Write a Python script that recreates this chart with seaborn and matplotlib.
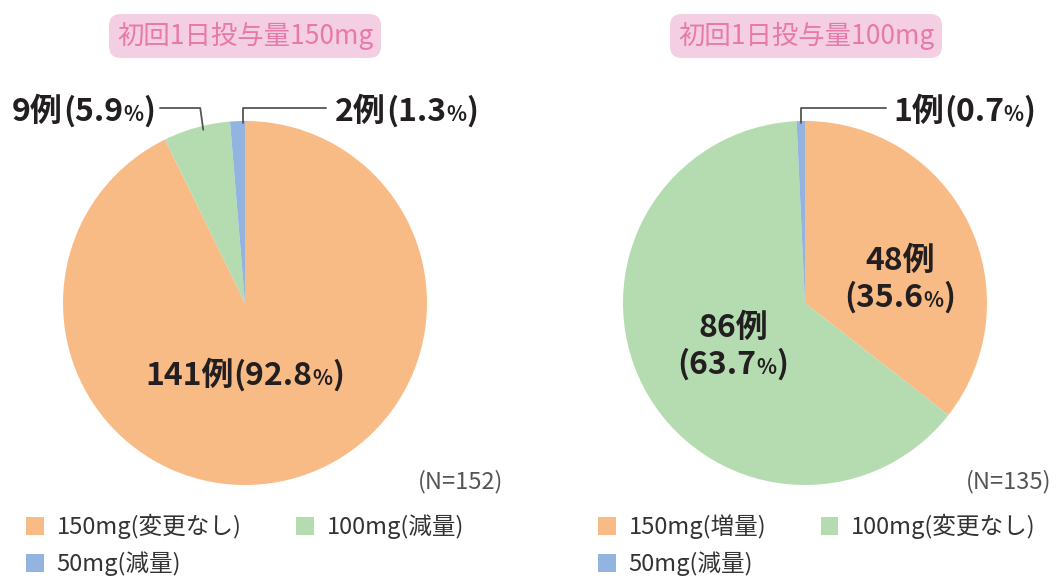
import numpy as np
import pandas as pd
import matplotlib
matplotlib.use("Agg")
import matplotlib.pyplot as plt
import seaborn as sns
from matplotlib.patches import Patch

# data
titles = ["初回1日投与量150mg", "初回1日投与量100mg"]
left_counts = [141, 9, 2]
left_pcts = [92.8, 5.9, 1.3]
left_legend = ["150mg(変更なし)", "100mg(減量)", "50mg(減量)"]
right_counts = [48, 86, 1]
right_pcts = [35.6, 63.7, 0.7]
right_legend = ["150mg(増量)", "100mg(変更なし)", "50mg(減量)"]
n_labels = ["(N=152)", "(N=135)"]

colors = ["#f9bb86", "#b4dcb0", "#93b4df"]

sns.set_theme(style="white")
plt.rcParams["font.family"] = ["Noto Sans CJK JP", "DejaVu Sans"]

W, H = 1057, 576
fig = plt.figure(figsize=(W / 100, H / 100), dpi=100)
fig.patch.set_facecolor("white")
renderer = fig.canvas.get_renderer()
dark = "#231f20"


def fpx(x, y):
    # top-left pixel -> figure fraction
    return x / W, 1 - y / H


def rich(x, y, parts, ha="left"):
    # draw text pieces in a row, baseline at pixel y (from top)
    texts = []
    for s, size in parts:
        t = fig.text(0, 0, s, fontsize=size, fontweight="bold", color=dark,
                     va="baseline", ha="left")
        texts.append(t)
    widths = [t.get_window_extent(renderer).width for t in texts]
    total = sum(widths)
    if ha == "center":
        x0 = x - total / 2
    elif ha == "right":
        x0 = x - total
    else:
        x0 = x
    for t, w in zip(texts, widths):
        t.set_position(fpx(x0, y))
        x0 += w


def label_parts(count, pct):
    return [f"{count}例", f"({pct}", "%", ")"]


def pie_axes(cx, cy, r):
    ax = fig.add_axes([(cx - r) / W, (H - cy - r) / H, 2 * r / W, 2 * r / H])
    ax.axis("off")
    return ax


R = 182
centers = [(245, 303), (805, 303)]

for counts, c in zip([left_counts, right_counts], centers):
    ax = pie_axes(*c, R)
    ax.pie(counts, colors=colors, startangle=90, counterclock=False,
           radius=1, wedgeprops=dict(linewidth=0))
    ax.set_xlim(-1, 1)
    ax.set_ylim(-1, 1)
    ax.set_aspect("equal")


def edge_point(counts, idx, cx, cy, frac=0.5):
    tot = sum(counts)
    start = sum(counts[:idx]) / tot
    a = (start + counts[idx] / tot * frac) * 2 * np.pi
    return cx + R * np.sin(a), cy - R * np.cos(a)


big, small = 23, 15
line_c = "#555555"
ly = 108


def parts_row(p):
    return [(p[0], big), (p[1], big), (p[2], small), (p[3], big)]


# left outside labels
gx, gy = edge_point(left_counts, 1, *centers[0], frac=0.6)
fig.add_artist(plt.Line2D([160 / W, (gx - 3) / W, gx / W],
                          [1 - ly / H, 1 - ly / H, 1 - (gy + 4) / H],
                          color=line_c, lw=1.3))
rich(155, 121, parts_row(label_parts(left_counts[1], left_pcts[1])), ha="right")

bx, by = edge_point(left_counts, 2, *centers[0], frac=0.9)
fig.add_artist(plt.Line2D([bx / W, bx / W, 326 / W],
                          [1 - (by + 2) / H, 1 - ly / H, 1 - ly / H],
                          color=line_c, lw=1.3))
rich(335, 121, parts_row(label_parts(left_counts[2], left_pcts[2])))

rich(245, 385, parts_row(label_parts(left_counts[0], left_pcts[0])), ha="center")

# right labels
bx, by = edge_point(right_counts, 2, *centers[1], frac=0.5)
fig.add_artist(plt.Line2D([bx / W, bx / W, 886 / W],
                          [1 - (by + 2) / H, 1 - ly / H, 1 - ly / H],
                          color=line_c, lw=1.3))
rich(893, 121, parts_row(label_parts(right_counts[2], right_pcts[2])))

p = parts_row(label_parts(right_counts[0], right_pcts[0]))
rich(900, 270, p[:1], ha="center")
rich(900, 307, p[1:], ha="center")
p = parts_row(label_parts(right_counts[1], right_pcts[1]))
rich(733, 337, p[:1], ha="center")
rich(733, 374, p[1:], ha="center")

# titles
for t, xc in zip(titles, [245, 806]):
    fig.text(*fpx(xc, 36), t, fontsize=19, color="#e77aa9", ha="center",
             va="center",
             bbox=dict(boxstyle="round,pad=0.3,rounding_size=0.45",
                       fc="#f4cee3", ec="none"))

# N labels
for t, xr in zip(n_labels, [503, 1051]):
    fig.text(*fpx(xr, 482), t, fontsize=17, color="#555555", ha="right",
             va="center")

# legends (row-wise order: item 0, item 1 on first row, item 2 below)
order = [0, 2, 1]
for labels, x0 in zip([left_legend, right_legend], [26, 598]):
    handles = [Patch(fc=colors[i], ec="none") for i in order]
    fig.legend(handles, [labels[i] for i in order], loc="upper left",
               bbox_to_anchor=fpx(x0, 514), ncol=2, frameon=False,
               fontsize=17, handlelength=0.75, handleheight=0.75,
               handletextpad=0.55, columnspacing=2.3, labelspacing=0.52,
               borderaxespad=0, borderpad=0, labelcolor="#333333")

fig.savefig("out.png", dpi=100, facecolor="white")
